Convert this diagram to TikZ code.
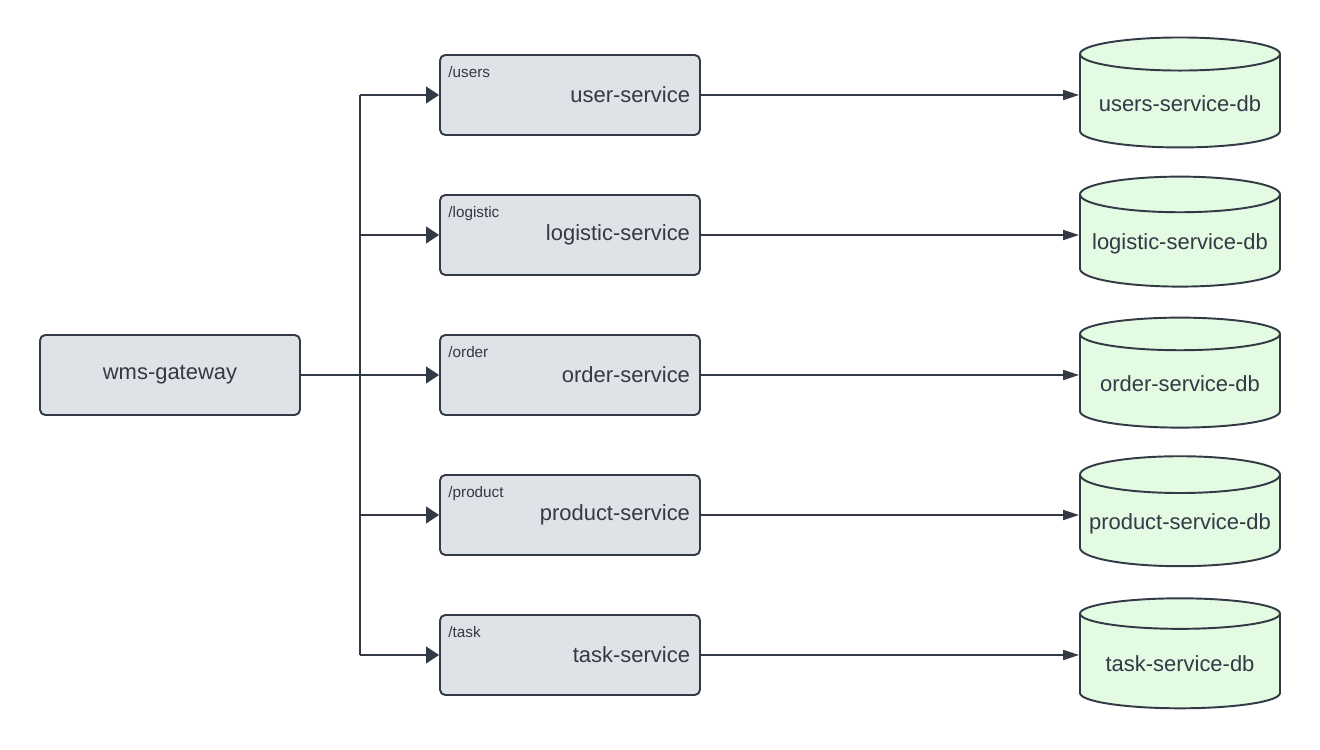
\documentclass[tikz,border=0pt]{standalone}
\usepackage{fontspec}
\setmainfont{Liberation Sans}
\usetikzlibrary{arrows.meta,shapes.geometric}
\definecolor{ink}{HTML}{333A45}
\definecolor{boxfill}{HTML}{DFE3E8}
\definecolor{dbfill}{HTML}{E3FAE3}

\begin{document}
\begin{tikzpicture}[x=0.02cm,y=-0.02cm,
    svcbox/.style={draw=ink,fill=boxfill,line width=1.1pt,rounded corners=3pt,
      minimum width=5.2cm,minimum height=1.6cm,inner xsep=0.2cm,
      text width=4.8cm,align=right,text=ink,font=\fontsize{12.5}{14}\selectfont},
    gwbox/.style={svcbox,align=center},
    pathlabel/.style={anchor=north west,inner sep=0pt,text=ink,font=\fontsize{8.7}{10}\selectfont},
    dbnode/.style={cylinder,shape border rotate=90,aspect=0.19,draw=ink,fill=dbfill,
      line width=1.1pt,minimum width=4cm,minimum height=2.2cm,text=ink,
      font=\fontsize{12.5}{14}\selectfont},
    branch/.style={draw=ink,line width=0.7pt,-{Triangle[length=7.4pt,width=9.6pt]}},
    tolink/.style={draw=ink,line width=0.7pt,-{Triangle[length=9pt,width=5.7pt]}}]
  \useasboundingbox (0,0) rectangle (1320,750);

  \node[gwbox](gw) at (170,375){wms-gateway};
  \coordinate (trunk) at (360,375);

  \foreach \nm/\txt/\pth/\db/\yy in {user/user-service/users/users-service-db/95,
      logistic/logistic-service/logistic/logistic-service-db/235,
      order/order-service/order/order-service-db/375,
      product/product-service/product/product-service-db/515,
      task/task-service/task/task-service-db/655}{
    \node[svcbox](\nm) at (570,\yy){\txt};
    \node[pathlabel] at ([xshift=0.18cm,yshift=-0.24cm]\nm.north west){/\pth};
    \node[dbnode](\nm-db) at (1180,\yy+9){\db};
    \draw[branch] (trunk |- \nm.west) -- (\nm.west);
    \draw[tolink] (\nm.east) -- (\nm.east -| \nm-db.west);
  }

  \draw[ink,line width=0.9pt] (trunk |- user.west) -- (trunk |- task.west);
  \draw[ink,line width=0.7pt] (gw.east) -- (trunk);
\end{tikzpicture}
\end{document}
